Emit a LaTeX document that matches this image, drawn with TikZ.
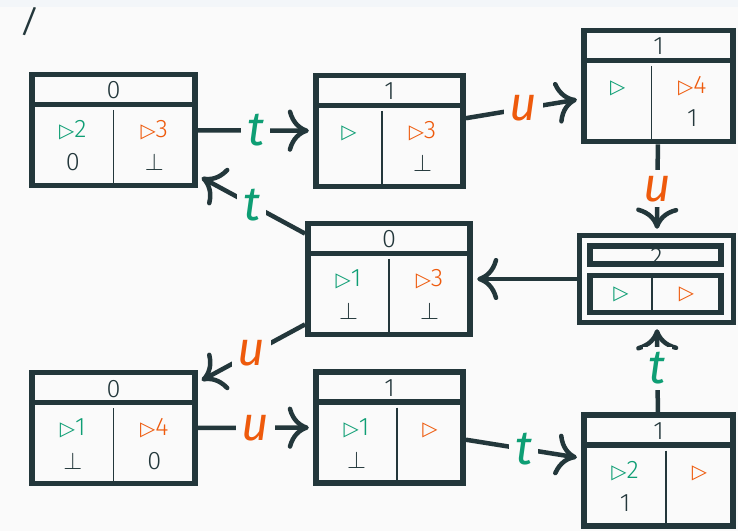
\documentclass[tikz,border=0pt]{standalone}
\usepackage{fontspec}
\setmainfont{Fira Sans}[UprightFont=* Light, ItalicFont=* Italic]
\newfontfamily\symfont{DejaVu Sans}
\usetikzlibrary{arrows.meta}

\definecolor{ink}{HTML}{23373B}
\definecolor{tcol}{HTML}{0E9E74}
\definecolor{ucol}{HTML}{EE5A0C}
\definecolor{paper}{HTML}{FAFAFA}
\definecolor{band}{HTML}{F3F6F9}

\newcommand{\rtri}{{\symfont\fontsize{14}{14}\selectfont ▷}}
\newcommand{\tmark}[1]{{\color{tcol}\rtri#1}}
\newcommand{\umark}[1]{{\color{ucol}\rtri#1}}
\newcommand{\nil}{$\bot$}

\tikzset{
  box/.style={draw=ink, line width=4.2pt, rectangle, inner sep=0pt},
  headrule/.style={ink, line width=4.2pt},
  colrule/.style={ink, line width=0.8pt},
  cell/.style={anchor=base, inner sep=0pt, text=ink, font=\fontsize{18}{20}\selectfont},
  trans/.style={ink, line width=3.2pt, shorten >=3pt,
    -{Computer Modern Rightarrow[length=15pt,width=30pt]}},
  lbl/.style={fill=paper, inner sep=4pt, font=\fontsize{34}{36}\selectfont\itshape},
}

% name, centre, half width, column rule offset, header, four cells
\NewDocumentCommand{\statebox}{mmmmmmmmm}{%
\begin{scope}[shift={(#2)}]%
\node[box, minimum width={2*#3*0.025cm}, minimum height={111*0.025cm}] (#1) at (0,0) {};
\draw[headrule] (-#3,-25.5) -- (#3,-25.5);
\draw[colrule] (#4,-20) -- (#4,55.5);
\node[cell] (#1h) at (0,-31) {#5};
\node[cell] (#1a) at ({(#4-#3)/2},7.5) {#6};
\node[cell] (#1b) at ({(#4+#3)/2},7.5) {#7};
\node[cell] (#1c) at ({(#4-#3)/2},41) {#8};
\node[cell] (#1d) at ({(#4+#3)/2},41) {#9};
\end{scope}%
}

\begin{document}
\begin{tikzpicture}[x=0.025cm, y=-0.025cm]
    % page
    \fill[paper] (0,0) rectangle (738,531);
    \fill[band] (0,0) rectangle (738,7);
    \useasboundingbox (0,0) rectangle (738,531);
    \node[text=ink, font=\fontsize{22}{22}\selectfont\itshape] (slash) at (29,22) {/};

    % top row
    \statebox{A}{113.5,130}{81.5}{0}{0}{\tmark{2}}{\umark{3}}{0}{\nil}
    \statebox{B}{389.5,131}{73.5}{-7.5}{1}{\tmark{}}{\umark{3}}{}{\nil}
    \statebox{C}{658.5,86}{74.5}{-7}{1}{\tmark{}}{\umark{4}}{}{1}

    % middle row
    \statebox{E}{389,279}{81}{0}{0}{\tmark{1}}{\umark{3}}{\nil}{\nil}

    % double box, its header digit sits under the frame
    \node[cell] (Dh) at (656.5,265.5) {2};
    \node[box, line width=3.9pt, minimum width={153.5*0.025cm}, minimum height={86.5*0.025cm}] (D) at (656.5,279) {};
    \draw[headrule, line width=3.9pt] (590,246) rectangle (721,264);
    \draw[headrule, line width=3.9pt] (590,275.5) rectangle (721,312.5);
    \draw[colrule] (652,277) -- (652,312);
    \node[cell] (Da) at (621,300) {\tmark{}};
    \node[cell] (Db) at (686.5,300) {\umark{}};

    % bottom row
    \statebox{F}{113.5,428}{81.5}{0}{0}{\tmark{1}}{\umark{4}}{\nil}{0}
    \statebox{G}{389.5,427.5}{73.5}{7.5}{1}{\tmark{1}}{\umark{}}{\nil}{}
    \statebox{H}{658.5,470.5}{74.5}{7.5}{1}{\tmark{2}}{\umark{}}{1}{}

    % transitions
    \draw[trans] (A) -- node[lbl, text=tcol] (tAB) {t} (B);
    \draw[trans] (B) -- node[lbl, text=ucol] (uBC) {u} (C);
    \draw[trans] (C) -- node[lbl, text=ucol] (uCD) {u} (D);
    \draw[trans] (D) -- (E);
    \draw[trans] (E) -- node[lbl, text=tcol] (tEA) {t} (A);
    \draw[trans] (E) -- node[lbl, text=ucol] (uEF) {u} (F);
    \draw[trans] (F) -- node[lbl, text=ucol] (uFG) {u} (G);
    \draw[trans] (G) -- node[lbl, text=tcol] (tGH) {t} (H);
    \draw[trans] (H) -- node[lbl, text=tcol] (tHD) {t} (D);
\end{tikzpicture}
\end{document}
